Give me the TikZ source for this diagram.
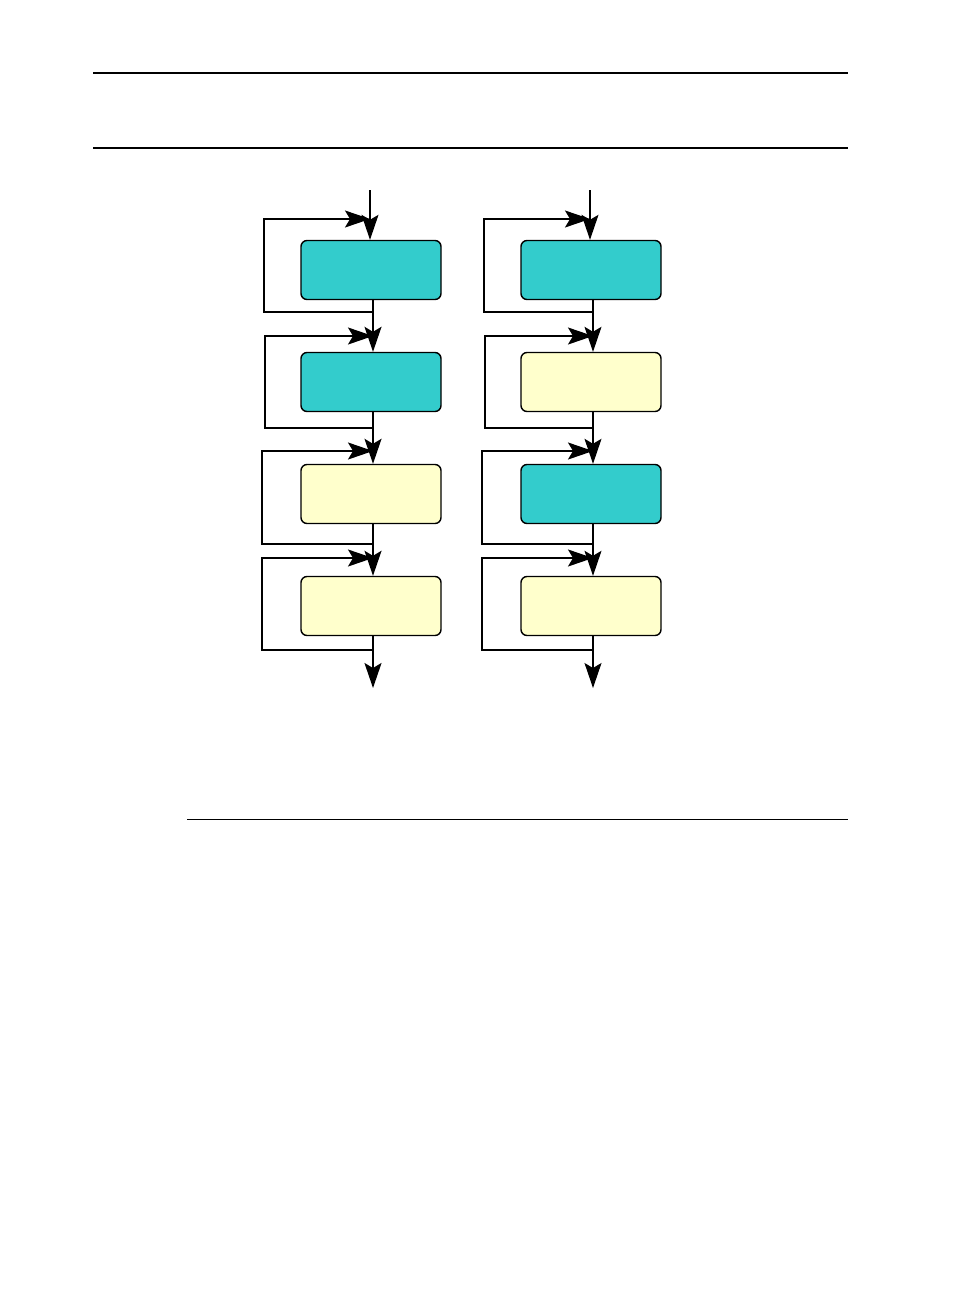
\documentclass[tikz,border=0pt]{standalone}
\usetikzlibrary{arrows.meta}
\definecolor{teal}{HTML}{33CCCC}
\definecolor{pale}{HTML}{FFFFCC}
\tikzset{
  blk/.style={draw=black, line width=1.4pt, rounded corners=6pt, minimum width=140pt, minimum height=59pt, inner sep=0pt},
  tealblk/.style={blk, fill=teal},
  paleblk/.style={blk, fill=pale},
  arr/.style={-{Stealth[length=25pt,width=17pt,inset=5pt]}},
  thick1/.style={line width=1.9pt},
  thin1/.style={line width=1.1pt},
  loopln/.style={line width=1.5pt},
  rule/.style={line width=1.4pt}
}
\begin{document}
\begin{tikzpicture}[x=1pt,y=-1pt]
\useasboundingbox (0,0) rectangle (956,1296);
\fill[white] (0,0) rectangle (956,1296);
% rules
\coordinate (r1a) at (93,73); \coordinate (r1b) at (848,73);
\coordinate (r2a) at (93,148); \coordinate (r2b) at (848,148);
\coordinate (r3a) at (187,819); \coordinate (r3b) at (848,819);
\draw[rule] (r1a) -- (r1b);
\draw[rule] (r2a) -- (r2b);
\draw[line width=0.9pt] (r3a) -- (r3b);

% left column boxes
\node[tealblk] (a1) at (371,270) {};
\node[tealblk] (a2) at (371,382) {};
\node[paleblk] (a3) at (371,494) {};
\node[paleblk] (a4) at (371,606) {};
% right column boxes
\node[tealblk] (b1) at (591,270) {};
\node[paleblk] (b2) at (591,382) {};
\node[tealblk] (b3) at (591,494) {};
\node[paleblk] (b4) at (591,606) {};

% left column main flow
\coordinate (ain) at (370,190);
\coordinate (aout) at (373,688);
\draw[thin1,arr] (ain) -- (ain |- a1.north);
\draw[thick1,arr] ([xshift=2pt]a1.south) -- ([xshift=2pt]a2.north);
\draw[thick1,arr] ([xshift=2pt]a2.south) -- ([xshift=2pt]a3.north);
\draw[thick1,arr] ([xshift=2pt]a3.south) -- ([xshift=2pt]a4.north);
\draw[thick1,arr] ([xshift=2pt]a4.south) -- (aout);

% left loops
\coordinate (la1s) at (373,312); \coordinate (la1l) at (264,312); \coordinate (la1t) at (264,219); \coordinate (la1e) at (370,219);
\coordinate (la2s) at (373,428); \coordinate (la2l) at (265,428); \coordinate (la2t) at (265,336); \coordinate (la2e) at (373,336);
\coordinate (la3s) at (373,544); \coordinate (la3l) at (262,544); \coordinate (la3t) at (262,451); \coordinate (la3e) at (373,451);
\coordinate (la4s) at (373,650); \coordinate (la4l) at (262,650); \coordinate (la4t) at (262,558); \coordinate (la4e) at (373,558);
\foreach \i in {1,2,3,4}{
  \draw[loopln,arr] (la\i s) -- (la\i l) -- (la\i t) -- (la\i e);
}

% right column main flow
\coordinate (bin) at (590,190);
\coordinate (bout) at (593,688);
\draw[thin1,arr] (bin) -- (bin |- b1.north);
\draw[thin1,arr] ([xshift=2pt]b1.south) -- ([xshift=2pt]b2.north);
\draw[thin1,arr] ([xshift=2pt]b2.south) -- ([xshift=2pt]b3.north);
\draw[thin1,arr] ([xshift=2pt]b3.south) -- ([xshift=2pt]b4.north);
\draw[thin1,arr] ([xshift=2pt]b4.south) -- (bout);

% right loops
\coordinate (lb1s) at (593,312); \coordinate (lb1l) at (484,312); \coordinate (lb1t) at (484,219); \coordinate (lb1e) at (590,219);
\coordinate (lb2s) at (593,428); \coordinate (lb2l) at (485,428); \coordinate (lb2t) at (485,336); \coordinate (lb2e) at (593,336);
\coordinate (lb3s) at (593,544); \coordinate (lb3l) at (482,544); \coordinate (lb3t) at (482,451); \coordinate (lb3e) at (593,451);
\coordinate (lb4s) at (593,650); \coordinate (lb4l) at (482,650); \coordinate (lb4t) at (482,558); \coordinate (lb4e) at (593,558);
\foreach \i in {1,2,3,4}{
  \draw[loopln,arr] (lb\i s) -- (lb\i l) -- (lb\i t) -- (lb\i e);
}
\end{tikzpicture}
\end{document}
